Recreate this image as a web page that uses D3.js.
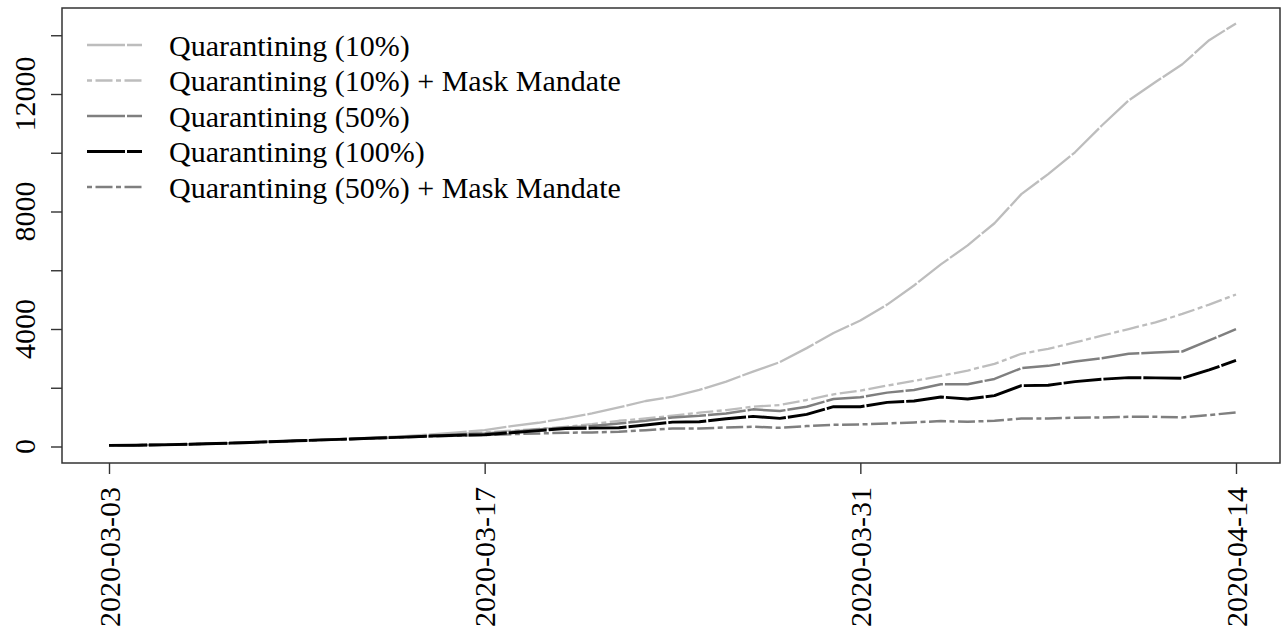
<!DOCTYPE html>
<html>
<head>
<meta charset="utf-8">
<script src="https://cdn.jsdelivr.net/npm/d3@7"></script>
<style>
  html, body { margin: 0; padding: 0; background: #fff; }
  svg { display: block; }
  text { font-family: "Liberation Serif", "Times New Roman", serif; fill: #000; }
</style>
</head>
<body>
<svg id="chart" width="1287" height="630"></svg>
<script>
// Daily simulated cumulative cases, 2020-03-03 .. 2020-04-14 (43 days)
const startDate = "2020-03-03";
const endDate = "2020-04-14";

const seriesNames = [
  "Quarantining (10%)",
  "Quarantining (10%) + Mask Mandate",
  "Quarantining (50%)",
  "Quarantining (100%)",
  "Quarantining (50%) + Mask Mandate"
];

const q10 = [40, 45, 58, 78, 104, 134, 168, 203, 236, 270, 310, 355,
  410, 480, 557, 694, 808, 956, 1127, 1332, 1549, 1697, 1925, 2210, 2551, 2871, 3349, 3862,
  4290, 4831, 5480, 6198, 6848, 7600, 8591, 9275, 10016, 10928, 11782, 12409, 13013, 13833, 14403];

const q10Mask = [40, 45, 57, 77, 102, 131, 163, 196, 226, 256, 290, 326,
  372, 420, 480, 540, 600, 671, 762, 876, 956, 1047, 1150, 1240, 1355, 1412, 1583, 1777,
  1902, 2073, 2232, 2403, 2586, 2814, 3156, 3326, 3543, 3771, 3999, 4227, 4512, 4831, 5173];

const q50 = [40, 45, 57, 77, 102, 131, 163, 196, 226, 256, 290, 325,
  368, 410, 444, 500, 580, 648, 694, 785, 876, 990, 1047, 1127, 1264, 1207, 1355, 1617,
  1674, 1834, 1925, 2119, 2119, 2301, 2666, 2745, 2893, 3007, 3156, 3201, 3235, 3611, 3999];

const q100 = [40, 45, 57, 76, 101, 130, 162, 194, 224, 254, 287, 320,
  355, 385, 400, 470, 540, 614, 625, 637, 730, 830, 842, 945, 1025, 956, 1093, 1355,
  1355, 1503, 1549, 1685, 1617, 1731, 2073, 2084, 2210, 2290, 2346, 2335, 2324, 2608, 2928];

const q50Mask = [40, 45, 57, 76, 100, 128, 160, 192, 221, 250, 282, 315,
  345, 370, 390, 420, 444, 466, 480, 500, 557, 614, 614, 648, 671, 637, 694, 740,
  751, 785, 819, 865, 842, 876, 956, 956, 979, 990, 1013, 1013, 990, 1070, 1161];

const xTickLabels = ["2020-03-03", "2020-03-17", "2020-03-31", "2020-04-14"];
const yTicks = [0, 2000, 4000, 6000, 8000, 10000, 12000, 14000];
const yTickLabels = [0, 4000, 8000, 12000];

// line styles per series
const styles = [
  { color: "#bdbdbd", width: 2.3, dash: "38,2" },
  { color: "#bdbdbd", width: 2.3, dash: "5,3.5,17,3.5" },
  { color: "#7f7f7f", width: 2.5, dash: "38,2" },
  { color: "#000000", width: 2.9, dash: "38,2" },
  { color: "#7f7f7f", width: 2.5, dash: "5,3.5,17,3.5" }
];

const values = [q10, q10Mask, q50, q100, q50Mask];
const parse = d3.utcParse("%Y-%m-%d");
const dates = d3.utcDay.range(parse(startDate), d3.utcDay.offset(parse(endDate), 1));

const svg = d3.select("#chart");
const box = { left: 62, right: 1280, top: 8, bottom: 463 };

const x = d3.scaleUtc()
  .domain([parse(startDate), parse(endDate)])
  .range([109, 1236]);

const y = d3.scaleLinear()
  .domain([0, 12000])
  .range([446.5, 94]);

const fontSize = 30;

// plot box
svg.append("rect")
  .attr("x", box.left).attr("y", box.top)
  .attr("width", box.right - box.left).attr("height", box.bottom - box.top)
  .attr("fill", "none").attr("stroke", "#333").attr("stroke-width", 1.5);

// y axis ticks
const yAxis = svg.append("g")
  .attr("transform", `translate(${box.left},0)`)
  .call(d3.axisLeft(y).tickValues(yTicks).tickSize(11).tickFormat(""));
yAxis.select(".domain").remove();
yAxis.selectAll(".tick line").attr("stroke", "#333").attr("stroke-width", 1.4);

svg.append("g").selectAll("text")
  .data(yTickLabels)
  .join("text")
  .attr("transform", d => `translate(24,${y(d)}) rotate(-90)`)
  .attr("text-anchor", "middle")
  .attr("dy", "0.35em")
  .attr("font-size", fontSize)
  .text(d => d);

// x axis ticks
const xAxis = svg.append("g")
  .attr("transform", `translate(0,${box.bottom})`)
  .call(d3.axisBottom(x).tickValues(xTickLabels.map(parse)).tickSize(11).tickFormat(""));
xAxis.select(".domain").remove();
xAxis.selectAll(".tick line").attr("stroke", "#333").attr("stroke-width", 1.4);

svg.append("g").selectAll("text")
  .data(xTickLabels)
  .join("text")
  .attr("transform", d => `translate(${x(parse(d))},487) rotate(-90)`)
  .attr("text-anchor", "end")
  .attr("dy", "0.35em")
  .attr("font-size", fontSize)
  .text(d => d);

// series lines
const line = d3.line()
  .x((d, i) => x(dates[i]))
  .y(d => y(d));

const lineOrder = [0, 1, 2, 4, 3];
svg.append("g").selectAll("path")
  .data(lineOrder)
  .join("path")
  .attr("d", k => line(values[k]))
  .attr("fill", "none")
  .attr("stroke", k => styles[k].color)
  .attr("stroke-width", k => styles[k].width)
  .attr("stroke-dasharray", k => styles[k].dash)
  .attr("stroke-linejoin", "round");

// legend
const legendRowY = [45, 80.5, 116, 151.5, 187];
const legend = svg.append("g");
const rows = legend.selectAll("g")
  .data(seriesNames)
  .join("g")
  .attr("transform", (d, i) => `translate(0,${legendRowY[i]})`);
rows.append("line")
  .attr("x1", 87).attr("x2", 142).attr("y1", 0).attr("y2", 0)
  .attr("stroke", (d, i) => styles[i].color)
  .attr("stroke-width", (d, i) => styles[i].width)
  .attr("stroke-dasharray", (d, i) => styles[i].dash);
rows.append("text")
  .attr("x", 169)
  .attr("dy", "0.35em")
  .attr("font-size", fontSize)
  .text(d => d);
</script>
</body>
</html>
